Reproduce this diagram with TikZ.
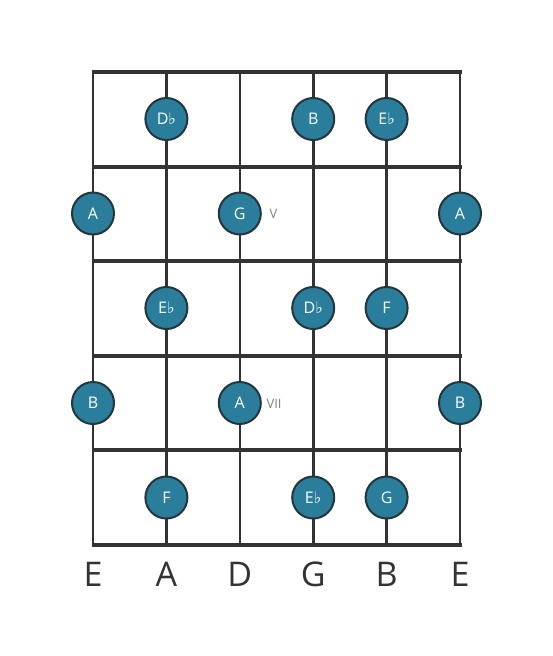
\documentclass[tikz,border=0pt]{standalone}
\usepackage{fontspec}
\setmainfont{Open Sans}
\newfontfamily\flatfont{DejaVu Sans}
\newcommand{\fl}{{\flatfont\char"266D}}
\usepackage{tikz}
\definecolor{dotblue}{HTML}{2A7E9C}
\definecolor{dotrim}{HTML}{24353D}
\definecolor{wire}{HTML}{333333}
\tikzset{
    note/.style={circle, draw=dotrim, line width=2pt, fill=dotblue, text=white,
        minimum size=42pt, inner sep=0pt, font=\fontsize{16}{16}\selectfont},
    posmark/.style={text=gray, font=\fontsize{13}{13}\selectfont, anchor=west},
    strname/.style={text=wire, font=\fontsize{34}{34}\selectfont}
}
\begin{document}
\begin{tikzpicture}[x=1pt, y=-1pt]
        \useasboundingbox (0,0) rectangle (553,656);
        % strings
        \foreach \sx in {93,166.4,239.8,313.2,386.6,460}
            \draw [wire, line width=2.6pt] (\sx,72) -- (\sx,545);
        % frets
        \foreach \fy in {72,166.6,261.2,355.8,450.4,545}
            \draw [wire, line width=4pt] (91.5,\fy) -- (461.5,\fy);

        \node[note] at (166.4, 119)   (db1) {D\fl};
        \node[note] at (313.2, 119)   (b1)  {B};
        \node[note] at (386.6, 119)   (eb1) {E\fl};

        \node[note] at (93, 213.5)    (a2)  {A};
        \node[note] at (239.8, 213.5) (g2)  {G};
        \node[note] at (460, 213.5)   (a2r) {A};
        \node[posmark] at (266, 214)  (v)   {V};

        \node[note] at (166.4, 308)   (eb3) {E\fl};
        \node[note] at (313.2, 308)   (db3) {D\fl};
        \node[note] at (386.6, 308)   (f3)  {F};

        \node[note] at (93, 403)      (b4)  {B};
        \node[note] at (239.8, 403)   (a4)  {A};
        \node[note] at (460, 403)     (b4r) {B};
        \node[posmark] at (263, 403.5) (vii) {VII};

        \node[note] at (166.4, 497.5) (f5)  {F};
        \node[note] at (313.2, 497.5) (eb5) {E\fl};
        \node[note] at (386.6, 497.5) (g5)  {G};

        \node[strname] at (93, 574)    (s1) {E};
        \node[strname] at (166.4, 574) (s2) {A};
        \node[strname] at (239.8, 574) (s3) {D};
        \node[strname] at (313.2, 574) (s4) {G};
        \node[strname] at (386.6, 574) (s5) {B};
        \node[strname] at (460, 574)   (s6) {E};
    \end{tikzpicture}
\end{document}
